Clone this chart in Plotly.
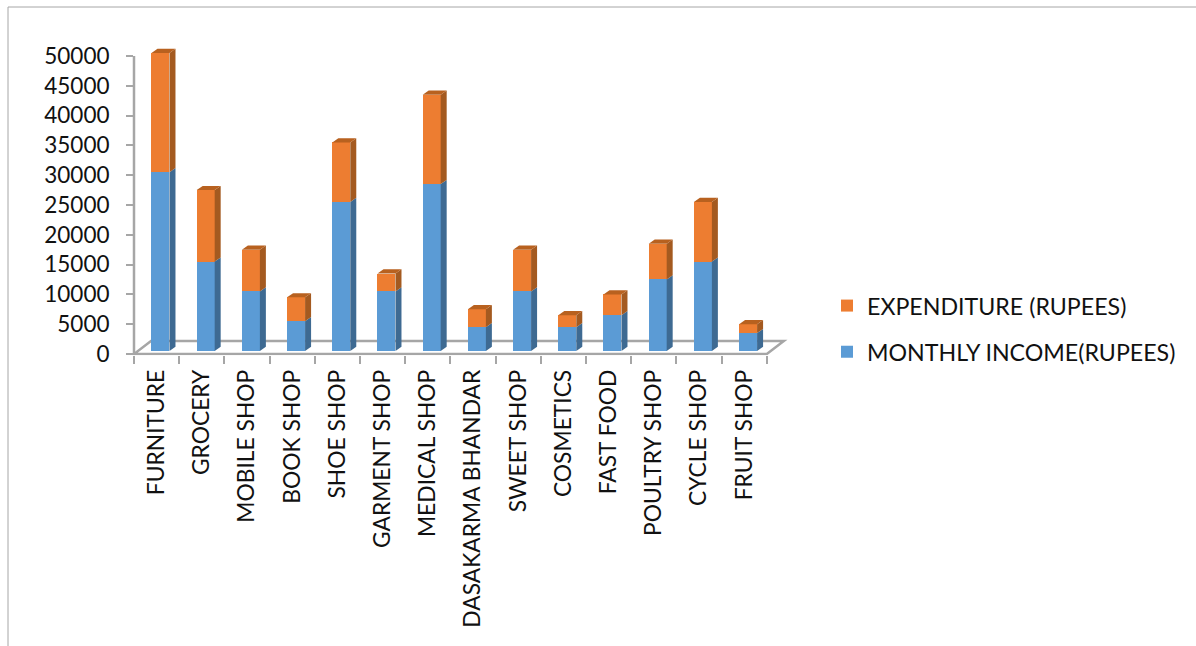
import plotly.graph_objects as go

categories = ["FURNITURE", "GROCERY", "MOBILE SHOP", "BOOK SHOP", "SHOE SHOP", "GARMENT SHOP",
              "MEDICAL SHOP", "DASAKARMA BHANDAR", "SWEET SHOP", "COSMETICS", "FAST FOOD",
              "POULTRY SHOP", "CYCLE SHOP", "FRUIT SHOP"]
income = [30000, 15000, 10000, 5000, 25000, 10000, 28000, 4000, 10000, 4000, 6000, 12000, 15000, 3000]
expenditure = [20000, 12000, 7000, 4000, 10000, 3000, 15000, 3000, 7000, 2000, 3500, 6000, 10000, 1500]

W, H = 1196, 646
FONT = "Lato"
GREY = "#A6A6A6"
BLUE, ORANGE = "#5B9BD5", "#ED7D31"
BLUE_SIDE, ORANGE_SIDE, ORANGE_TOP = "#3E6A92", "#A45A20", "#B8611F"

X0 = 134.0        # pixel of left end of the category axis
STEP = 45.2       # pixels per category
Y0 = 354.0        # pixel of value 0
PPU = 298.0 / 50000
YMIN, YMAX = -200, 51000
XMIN, XMAX = -0.5, 14.0
BAR_OFF, BAR_W = -0.113, 0.398
DX, DY = 6.0 / STEP, 4.2 / PPU          # bar depth in axis units
FDX, FDY = 17.0 / STEP, 13.0 / PPU      # floor depth in axis units
SHIFT = 3.0

def poly(pts, fill, xref="x", yref="y2", layer="above", line=None):
    path = "M" + "L".join(f"{a},{b}" for a, b in pts) + "Z"
    return dict(type="path", path=path, xref=xref, yref=yref, layer=layer, fillcolor=fill,
                line=line or dict(width=0))

fig = go.Figure()
fig.add_bar(x=categories, y=income, name="MONTHLY INCOME(RUPEES)", marker=dict(color=BLUE, line_width=0),
            offset=BAR_OFF, width=BAR_W, yaxis="y2", legendgroup="a", legendrank=2)
fig.add_bar(x=categories, y=expenditure, name="EXPENDITURE (RUPEES)", marker=dict(color=ORANGE, line_width=0),
            offset=BAR_OFF, width=BAR_W, yaxis="y2", legendgroup="b", legendrank=1)

shapes = []
shapes.append(poly([(XMIN, 0), (13.5, 0), (13.5 + FDX, FDY), (XMIN + FDX, FDY)], "white", yref="y",
                   layer="below", line=dict(color=GREY, width=2.5)))
# value axis line, stopping at the top tick
shapes.append(dict(type="line", xref="paper", yref="y", x0=X0 / W, x1=X0 / W, y0=YMIN, y1=50000,
                   line=dict(color=GREY, width=2.5), layer="below"))
for i, (a, b) in enumerate(zip(income, expenditure)):
    xl = i + BAR_OFF
    xr = xl + BAR_W
    shapes.append(poly([(xr, 0), (xr + DX, DY), (xr + DX, a + DY), (xr, a)], BLUE_SIDE))
    shapes.append(poly([(xr, a), (xr + DX, a + DY), (xr + DX, a + b + DY), (xr, a + b)], ORANGE_SIDE))
    shapes.append(poly([(xl, a + b), (xr, a + b), (xr + DX, a + b + DY), (xl + DX, a + b + DY)], ORANGE_TOP))
shapes.append(dict(type="line", xref="paper", yref="paper", x0=8 / W, x1=8 / W, y0=0, y1=1 - 7 / H,
                   line=dict(color=GREY, width=1)))
shapes.append(dict(type="line", xref="paper", yref="paper", x0=8 / W, x1=1, y0=1 - 7 / H, y1=1 - 7 / H,
                   line=dict(color=GREY, width=1)))

top_px = Y0 - YMAX * PPU
bot_px = Y0 - YMIN * PPU
x_right = X0 + (XMAX - XMIN) * STEP

fig.update_layout(
    width=W, height=H, margin=dict(l=0, r=0, t=0, b=0, autoexpand=False), autosize=False,
    paper_bgcolor="white", plot_bgcolor="rgba(0,0,0,0)",
    barmode="stack", shapes=shapes, font=dict(family=FONT, color="#111111"),
    xaxis=dict(domain=[X0 / W, x_right / W], range=[XMIN, XMAX], type="category",
               categoryorder="array", categoryarray=categories, tickson="boundaries",
               ticks="outside", ticklen=8, tickwidth=1.5, tickcolor=GREY, tickangle=-90,
               showline=False, showgrid=False, zeroline=False, automargin=False, ticklabelstandoff=9,
               tickfont=dict(family=FONT, size=22.8, color="#111111"), anchor="y"),
    yaxis=dict(domain=[1 - bot_px / H, 1 - top_px / H], range=[YMIN, YMAX], tickvals=list(range(0, 50001, 5000)),
               ticktext=[str(v) for v in range(0, 50001, 5000)], ticks="outside", ticklen=7, tickwidth=1.5,
               tickcolor=GREY, showline=False, showgrid=False, zeroline=False, ticklabelstandoff=12,
               automargin=False, tickfont=dict(family=FONT, size=22.5, color="#111111"), anchor="x"),
    yaxis2=dict(domain=[1 - (bot_px - SHIFT) / H, 1 - (top_px - SHIFT) / H], range=[YMIN, YMAX], visible=False,
                anchor="x"),
    legend=dict(x=827 / W, xanchor="left", y=1 - 284 / H, yanchor="top", traceorder="grouped",
                tracegroupgap=13, bgcolor="rgba(0,0,0,0)",
                font=dict(family=FONT, size=23.2, color="#111111")),
)
fig.write_html("out.html", config={"displayModeBar": False}, post_script="document.body.style.margin='0';")
